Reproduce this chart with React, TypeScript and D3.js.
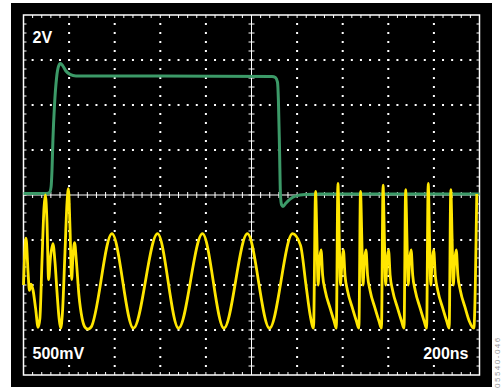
import React from "react";
import * as d3 from "d3";

// ---- Data (read from the reference scope shot) ----
// time in ns, value in volts
const TIME_SPAN_NS = 2000; // 10 div x 200 ns
const X_DIVS = 10;
const Y_DIVS = 8;
const MINOR_PER_DIV = 5;
const GREEN_V_PER_DIV = 2;
const YELLOW_V_PER_DIV = 0.5;
const GREEN_OFFSET_DIV = 0;
const YELLOW_OFFSET_DIV = -3;

const CH1_LABEL = "2V";
const CH2_LABEL = "500mV";
const TIMEBASE_LABEL = "200ns";
const FIGURE_ID = "05540-046";

const greenTrace: [number, number][] = [
  [0, 0.07], [103, 0.07], [114, 0.11], [121, 0.36], [125, 1.11], [129, 2.44],
  [136, 4.0], [145, 5.2], [154, 5.73], [162, 5.84], [173, 5.73], [186, 5.51],
  [204, 5.36], [230, 5.29], [600, 5.29], [1090, 5.27], [1105, 5.22], [1114, 5.02],
  [1118, 4.22], [1123, 2.0], [1127, 0.0], [1132, -0.44], [1138, -0.51],
  [1151, -0.36], [1169, -0.18], [1195, -0.04], [1235, 0.02], [1300, 0.04], [2000, 0.04],
];

const yellowTrace: [number, number][] = [
  // burst at start
  [0, 0.5], [11, 1.02], [20, 0.64], [26, 0.44], [33, 0.51], [42, 0.44], [53, 0.24],
  [64, 0.03], [72, 0.13], [81, 0.76], [90, 1.36], [96, 1.5], [103, 1.2], [110, 0.56],
  [118, 0.8], [129, 0.96], [138, 0.76], [147, 0.42], [156, 0.13], [163, 0.02],
  [171, 0.2], [182, 0.87], [191, 1.42], [197, 1.57], [204, 1.13], [211, 0.56],
  [217, 0.82], [224, 0.97], [232, 0.76], [243, 0.39], [257, 0.13], [270, 0.03],
  [283, 0.01], [296, 0.03],
  // steady oscillation
  [388, 1.07], [482, 0.02], [588, 1.07], [680, 0.02], [785, 1.07], [879, 0.02],
  [982, 1.07], [1079, 0.02], [1180, 1.07], [1215, 0.94], [1239, 0.5], [1257, 0.17],
  [1272, 0.02],
  // spikes
  [1281, 1.54], [1287, 1.0], [1292, 0.5], [1298, 0.76], [1305, 0.89], [1312, 0.61],
  [1323, 0.44], [1345, 0.24], [1362, 0.1], [1372, 0.02],
  [1379, 1.63], [1385, 1.0], [1390, 0.5], [1397, 0.76], [1403, 0.89], [1410, 0.61],
  [1421, 0.44], [1443, 0.24], [1460, 0.1], [1471, 0.02],
  [1478, 1.54], [1484, 1.0], [1489, 0.5], [1495, 0.76], [1502, 0.89], [1509, 0.61],
  [1520, 0.44], [1542, 0.24], [1559, 0.1], [1570, 0.02],
  [1577, 1.61], [1583, 1.0], [1588, 0.5], [1594, 0.76], [1601, 0.89], [1608, 0.61],
  [1619, 0.44], [1641, 0.24], [1658, 0.1], [1669, 0.02],
  [1676, 1.56], [1682, 1.0], [1687, 0.5], [1693, 0.76], [1700, 0.89], [1707, 0.61],
  [1718, 0.44], [1740, 0.24], [1757, 0.1], [1768, 0.02],
  [1775, 1.63], [1781, 1.0], [1786, 0.5], [1792, 0.76], [1799, 0.89], [1806, 0.61],
  [1817, 0.44], [1839, 0.24], [1856, 0.1], [1867, 0.02],
  [1874, 1.56], [1880, 1.0], [1885, 0.5], [1891, 0.76], [1898, 0.89], [1905, 0.61],
  [1916, 0.44], [1938, 0.24], [1955, 0.1], [1975, 0.02],
  [1988, 1.51],
];

// ---- Layout ----
const W = 503;
const H = 389;
const BG = { x: 11, y: 3, w: 481, h: 384 };
const GRID = { left: 23.5, right: 479.5, top: 15, bottom: 375 };
const GREEN = "#3c9a68";
const YELLOW = "#ffe600";

export default function App() {
  const xTime = d3.scaleLinear().domain([0, TIME_SPAN_NS]).range([GRID.left, GRID.right]);
  const xDiv = d3.scaleLinear().domain([0, X_DIVS]).range([GRID.left, GRID.right]);
  const yDiv = d3.scaleLinear().domain([-Y_DIVS / 2, Y_DIVS / 2]).range([GRID.bottom, GRID.top]);

  const greenLine = d3
    .line<[number, number]>()
    .x((d) => xTime(d[0]))
    .y((d) => yDiv(d[1] / GREEN_V_PER_DIV + GREEN_OFFSET_DIV))
    .curve(d3.curveMonotoneX);
  const yellowLine = d3
    .line<[number, number]>()
    .x((d) => xTime(d[0]))
    .y((d) => yDiv(d[1] / YELLOW_V_PER_DIV + YELLOW_OFFSET_DIV))
    .curve(d3.curveMonotoneX);

  const minorX = d3.range(0, X_DIVS * MINOR_PER_DIV + 1).map((i) => i / MINOR_PER_DIV);
  const minorY = d3.range(0, Y_DIVS * MINOR_PER_DIV + 1).map((i) => i / MINOR_PER_DIV - Y_DIVS / 2);
  const majorX = d3.range(1, X_DIVS).filter((i) => i !== X_DIVS / 2);
  const majorY = d3.range(-Y_DIVS / 2 + 1, Y_DIVS / 2).filter((j) => j !== 0);

  const dots: { x: number; y: number }[] = [];
  majorX.forEach((i) =>
    minorY.slice(1, -1).forEach((j) => dots.push({ x: xDiv(i), y: yDiv(j) }))
  );
  majorY.forEach((j) =>
    minorX.slice(1, -1).forEach((i) => dots.push({ x: xDiv(i), y: yDiv(j) }))
  );

  const tk = 3;
  const cx = xDiv(X_DIVS / 2);
  const cy = yDiv(0);

  return (
    <svg
      width={W}
      height={H}
      style={{ position: "absolute", left: 0, top: 0, background: "#fff" }}
    >
      <rect x={BG.x} y={BG.y} width={BG.w} height={BG.h} fill="#000" />
      {/* dotted grid */}
      {dots.map((d, k) => (
        <rect key={k} x={d.x - 1} y={d.y - 1} width={2} height={2} fill="#fff" />
      ))}
      {/* border ticks and center ticks */}
      <g stroke="#fff" strokeWidth={1}>
        {minorX.slice(1, -1).map((i) => (
          <g key={"tx" + i}>
            <line x1={xDiv(i)} x2={xDiv(i)} y1={GRID.top} y2={GRID.top + tk} />
            <line x1={xDiv(i)} x2={xDiv(i)} y1={GRID.bottom} y2={GRID.bottom - tk} />
            <line x1={xDiv(i)} x2={xDiv(i)} y1={cy - tk} y2={cy + tk} />
          </g>
        ))}
        {minorY.slice(1, -1).map((j) => (
          <g key={"ty" + j}>
            <line x1={GRID.left} x2={GRID.left + tk} y1={yDiv(j)} y2={yDiv(j)} />
            <line x1={GRID.right} x2={GRID.right - tk} y1={yDiv(j)} y2={yDiv(j)} />
            <line x1={cx - tk} x2={cx + tk} y1={yDiv(j)} y2={yDiv(j)} />
          </g>
        ))}
        <line x1={GRID.left} x2={GRID.right} y1={cy} y2={cy} />
        <line x1={cx} x2={cx} y1={GRID.top} y2={GRID.bottom} />
      </g>
      <rect
        x={GRID.left}
        y={GRID.top}
        width={GRID.right - GRID.left}
        height={GRID.bottom - GRID.top}
        fill="none"
        stroke="#fff"
        strokeWidth={1.5}
      />
      {/* traces */}
      <path d={greenLine(greenTrace) || ""} fill="none" stroke={GREEN} strokeWidth={3} strokeLinejoin="round" />
      <path d={yellowLine(yellowTrace) || ""} fill="none" stroke={YELLOW} strokeWidth={2.8} strokeLinejoin="round" />
      {/* label backgrounds (labels hide the grid dots under them) */}
      <rect x={31} y={344} width={54} height={18} fill="#000" />
      <rect x={427} y={344} width={44} height={18} fill="#000" />
      {/* labels */}
      <g fill="#fff" fontFamily="Liberation Sans, Arial, sans-serif" fontWeight="bold" fontSize={16}>
        <text x={32.5} y={42.5}>{CH1_LABEL}</text>
        <text x={32.5} y={358.5}>{CH2_LABEL}</text>
        <text x={468.5} y={358.5} textAnchor="end">{TIMEBASE_LABEL}</text>
      </g>
      <text
        transform="translate(500,388) rotate(-90)"
        textAnchor="start"
        fontFamily="Liberation Sans, Arial, sans-serif"
        fontSize={8}
        letterSpacing={1.5}
        fill="#999"
      >
        {FIGURE_ID}
      </text>
    </svg>
  );
}
